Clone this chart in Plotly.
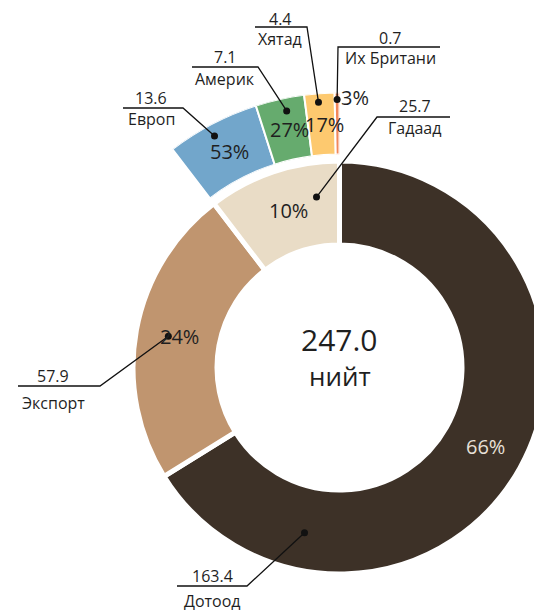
import math
import plotly.graph_objects as go

# ---------------- data ----------------
main_labels = ["Дотоод", "Экспорт", "Гадаад"]
main_values = [163.4, 57.9, 25.7]
main_colors = ["#3d3127", "#c0956f", "#e9dcc6"]

sub_labels = ["Европ", "Америк", "Хятад", "Их Британи"]
sub_values = [13.6, 7.1, 4.4, 0.7]
sub_colors = ["#72a6cb", "#66ab6e", "#fdc96f", "#f1875b"]

total_label = "нийт"

# ---------------- geometry (screen pixels) ----------------
W, H = 542, 613
OFF = 8  # page body margin
CX, CY = 339.5, 367.5
R_MAIN, R_HOLE = 206.5, 122.5
R_OUT, R_OUT_IN = 275.0, 213.0
FONT = "Open Sans"
TXT = "#1f1f1f"


def px(x):
    return (x - OFF) / W


def py(y):
    return 1 - (y - OFF) / H


def polar_pt(angle, r):
    a = math.radians(angle)
    return CX + r * math.sin(a), CY - r * math.cos(a)


def lr_percent(vals):
    s = sum(vals)
    raw = [v / s * 100 for v in vals]
    fl = [int(math.floor(x)) for x in raw]
    rem = 100 - sum(fl)
    order = sorted(range(len(vals)), key=lambda i: raw[i] - fl[i], reverse=True)
    for i in order[:rem]:
        fl[i] += 1
    return fl


def note(x, y, text, size, color=TXT, xanchor="center"):
    return dict(x=px(x), y=py(y), xref="paper", yref="paper", text=text,
                showarrow=False, xanchor=xanchor, yanchor="middle",
                font=dict(family=FONT, size=size, color=color))


total = sum(main_values)
main_pct = lr_percent(main_values)
sub_pct = lr_percent(sub_values)

# angular spans (clockwise from top)
main_spans = []
a = 0.0
for v in main_values:
    span = v / total * 360
    main_spans.append((a, a + span))
    a += span
g0, g1 = main_spans[2]
sub_sum = sum(sub_values)
sub_spans = []
a = g0
for v in sub_values:
    span = v / sub_sum * (g1 - g0)
    sub_spans.append((a, a + span))
    a += span

fig = go.Figure()

fig.add_trace(go.Pie(
    labels=main_labels, values=main_values, sort=False, direction="clockwise",
    rotation=0, hole=R_HOLE / R_MAIN,
    marker=dict(colors=main_colors, line=dict(color="white", width=5)),
    textinfo="none", hoverinfo="label+value+percent",
    domain=dict(x=[px(CX - R_MAIN), px(CX + R_MAIN)],
                y=[py(CY + R_MAIN), py(CY - R_MAIN)]),
    showlegend=False,
))

# outer breakdown ring of "Гадаад" as a polar bar sector
fig.add_trace(go.Barpolar(
    theta=[(s0 + s1) / 2 for s0, s1 in sub_spans],
    width=[s1 - s0 for s0, s1 in sub_spans],
    r=[1] * len(sub_values), base=0,
    marker=dict(color=sub_colors, line=dict(color="white", width=2)),
    text=sub_labels, customdata=sub_values,
    hovertemplate="%{text}: %{customdata}<extra></extra>",
    showlegend=False, subplot="polar",
))

span_deg = g1 - g0
sec = [90, 90 + span_deg + 0.5]
bx0 = math.cos(math.radians(sec[1]))
fig.update_layout(polar=dict(
    domain=dict(x=[px(CX + bx0 * R_OUT), px(CX)], y=[py(CY), py(CY - R_OUT)]),
    sector=sec, hole=R_OUT_IN / R_OUT, bgcolor="rgba(0,0,0,0)",
    radialaxis=dict(visible=False, range=[0, 1]),
    angularaxis=dict(visible=False, rotation=90, direction="clockwise"),
))

annotations = []
shapes = []

# centre text
annotations.append(note(CX, CY - 28, f"{total:.1f}", 30))
annotations.append(note(CX, CY + 8, total_label, 26))

# percentage labels in main ring
pct_colors = ["#e8e0d8", TXT, TXT]
for (s0, s1), p, c in zip(main_spans, main_pct, pct_colors):
    x, y = polar_pt((s0 + s1) / 2, (R_MAIN + R_HOLE) / 2)
    annotations.append(note(x + 2, y - 1, f"{p}%", 20, c))

# percentage labels in outer ring
for (s0, s1), p in zip(sub_spans, sub_pct):
    if s1 - s0 < 3:
        x, y = polar_pt(s1, R_OUT - 6)
        annotations.append(note(x - 1, y - 1, f"{p}%", 20, xanchor="left"))
    else:
        x, y = polar_pt((s0 + s1) / 2, (R_OUT + R_OUT_IN) / 2)
        annotations.append(note(x + 3, y, f"{p}%", 20))

# leader-line placements: span, frac within slice, dot radius, elbow x, elbow y,
# segment length, side, value offset, name offset, text shift
place = [
    (main_spans[0], 0.806, 169, 247, 586, 70, -1, -10, 15, 0),
    (main_spans[1], 0.5, 174, 100, 386, 82, -1, -10, 17, -6),
    (main_spans[2], 0.795, 172, 377, 117, 73, 1, -11, 11, 1),
    (sub_spans[0], 0.46, 263, 183, 108, 60, -1, -10, 11, -2),
    (sub_spans[1], 0.59, 262, 258, 67, 66, -1, -10, 12, 0),
    (sub_spans[2], 0.45, 266, 307, 27, 52, -1, -8, 12, -1),
    (sub_spans[3], 0.5, 268, 338, 47, 102, 1, -9, 11, 1),
]
names = main_labels + sub_labels
vals = main_values + sub_values
for ((s0, s1), frac, rr, ex, ey, ln, side, vd, nd, tshift), name, val in zip(place, names, vals):
    dx, dy = polar_pt(s0 + frac * (s1 - s0), rr)
    hx = ex + side * ln
    shapes.append(dict(type="path", xref="paper", yref="paper",
                       path=f"M {px(dx)} {py(dy)} L {px(ex)} {py(ey)} L {px(hx)} {py(ey)}",
                       line=dict(color="#111", width=1.3)))
    rd = 3.5
    shapes.append(dict(type="circle", xref="paper", yref="paper",
                       x0=px(dx - rd), x1=px(dx + rd), y0=py(dy + rd), y1=py(dy - rd),
                       fillcolor="#111", line=dict(width=0)))
    mx = (ex + hx) / 2 + tshift
    annotations.append(note(mx, ey + vd, f"{val:.1f}", 16))
    annotations.append(note(mx, ey + nd, name, 16))

fig.update_layout(
    width=W, height=H, margin=dict(l=0, r=0, t=0, b=0),
    paper_bgcolor="white", plot_bgcolor="white",
    annotations=annotations, shapes=shapes,
    font=dict(family=FONT),
)

fig.write_html("out.html")
